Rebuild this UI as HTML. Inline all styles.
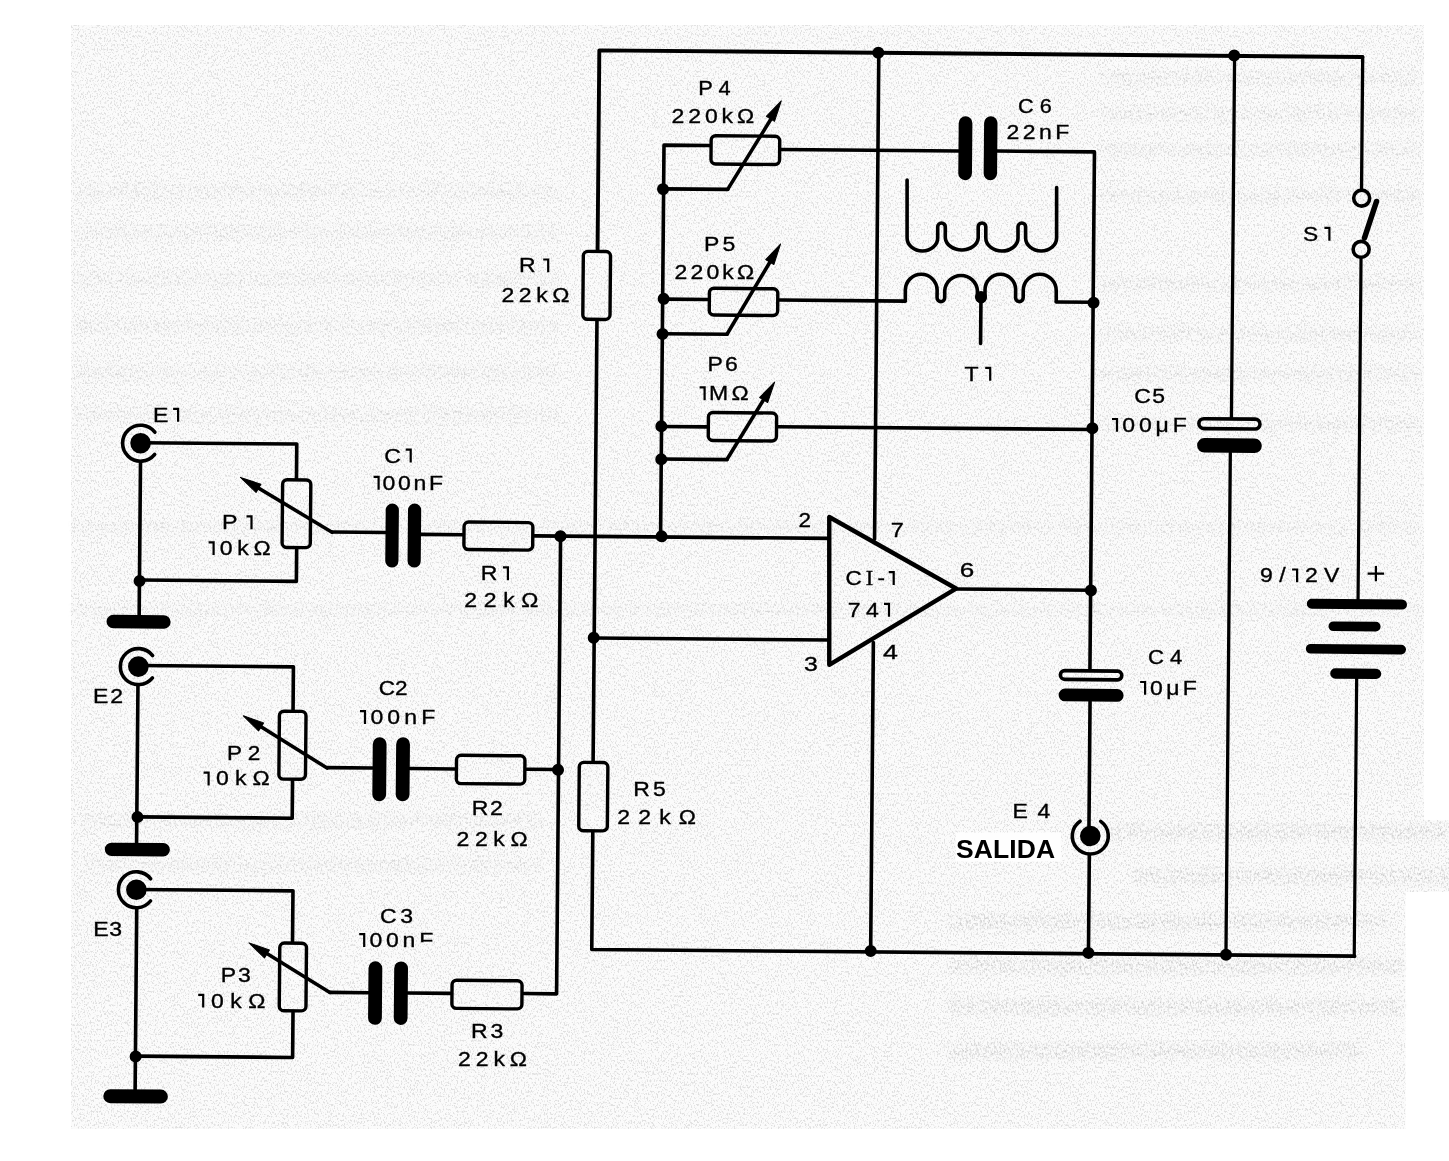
<!DOCTYPE html>
<html><head><meta charset="utf-8"><style>
html,body{margin:0;padding:0;background:#fff;}
svg{display:block;}
text{font-family:"Liberation Sans",sans-serif;fill:#000;}
</style></head><body>
<svg width="1449" height="1161" viewBox="0 0 1449 1161">
<defs>
<filter id="n" x="0" y="0" width="100%" height="100%">
<feTurbulence type="fractalNoise" baseFrequency="0.7 0.45" numOctaves="3" seed="7" result="t"/>
<feColorMatrix in="t" type="matrix" values="0 0 0 0 0  0 0 0 0 0  0 0 0 0 0  -6 0 0 0 2.9" result="a"/>
<feComposite in="a" in2="SourceGraphic" operator="in"/>
</filter>
<filter id="n2" x="-2%" y="-30%" width="104%" height="160%">
<feTurbulence type="fractalNoise" baseFrequency="0.5 0.3" numOctaves="2" seed="23" result="t"/>
<feColorMatrix in="t" type="matrix" values="0 0 0 0 0  0 0 0 0 0  0 0 0 0 0  -5 0 0 0 2.6" result="a"/>
<feGaussianBlur in="SourceGraphic" stdDeviation="3" result="b"/>
<feComposite in="a" in2="b" operator="in"/>
</filter>
</defs>
<path d="M71 25 H1424 V820 H1449 V892 H1405.5 V1129 H71 Z" fill="#fbfbfb"/>
<path d="M71 25 H1424 V820 H1449 V892 H1405.5 V1129 H71 Z" fill="#000" filter="url(#n)" opacity="0.10"/>
<g fill="#000" filter="url(#n2)" opacity="0.045">
<rect x="75" y="183" width="485" height="16"/>
<rect x="75" y="225" width="485" height="16"/><rect x="75" y="271" width="485" height="16"/>
<rect x="75" y="318" width="485" height="16"/><rect x="75" y="365" width="485" height="16"/>
<rect x="75" y="407" width="485" height="16"/>
<rect x="71" y="521" width="1352" height="12"/>

<rect x="71" y="604" width="1352" height="12"/>
<rect x="83" y="813" width="460" height="16"/><rect x="83" y="857" width="460" height="16"/>
</g>
<g fill="#000" filter="url(#n2)" opacity="0.06">
<rect x="1100" y="71" width="320" height="14"/><rect x="1100" y="107" width="320" height="14"/><rect x="1100" y="143" width="320" height="14"/><rect x="1100" y="189" width="320" height="14"/><rect x="1100" y="277" width="320" height="14"/><rect x="1100" y="327" width="320" height="14"/><rect x="1100" y="367" width="320" height="14"/><rect x="1100" y="417" width="320" height="14"/>
</g>
<g fill="#000" filter="url(#n2)" opacity="0.09">
<rect x="1110" y="824" width="339" height="16"/><rect x="1134" y="868" width="315" height="16"/>
<rect x="948" y="914" width="440" height="16"/><rect x="948" y="958" width="455" height="16"/>
<rect x="948" y="999" width="455" height="16"/><rect x="948" y="1043" width="413" height="16"/>
</g>
<g transform="rotate(0.5 725.0 500.0)">
<path d="M595.4 250.9 L595.4 51.5 L1358.6 51.5" fill="none" stroke="#000" stroke-width="3.9" stroke-linejoin="round" stroke-linecap="round"/>
<path d="M1358.8 51.4 L1358.8 182.9" fill="none" stroke="#000" stroke-width="3.3" stroke-linejoin="round" stroke-linecap="round"/>
<path d="M1358.9 253.5 L1358.9 598.7" fill="none" stroke="#000" stroke-width="3.2" stroke-linejoin="round" stroke-linecap="round"/>
<path d="M595.4 322.2 L595.4 761.9" fill="none" stroke="#000" stroke-width="3.6" stroke-linejoin="round" stroke-linecap="round"/>
<path d="M595.7 833.6 L595.7 950.6 L1358.6 950.6" fill="none" stroke="#000" stroke-width="3.6" stroke-linejoin="round" stroke-linecap="round"/>
<path d="M1358.2 951.1 L1358.2 668.1" fill="none" stroke="#000" stroke-width="3.2" stroke-linejoin="round" stroke-linecap="round"/>
<path d="M874.9 51.5 L874.9 538.0" fill="none" stroke="#000" stroke-width="3.6" stroke-linejoin="round" stroke-linecap="round"/>
<path d="M874.6 641.2 L874.6 949.7" fill="none" stroke="#000" stroke-width="3.6" stroke-linejoin="round" stroke-linecap="round"/>
<path d="M1230.7 51.1 L1230.7 412.7" fill="none" stroke="#000" stroke-width="3.3" stroke-linejoin="round" stroke-linecap="round"/>
<path d="M1229.9 448.4 L1229.9 950.3" fill="none" stroke="#000" stroke-width="3.3" stroke-linejoin="round" stroke-linecap="round"/>
<path d="M777.9 149.0 L955.4 149.0" fill="none" stroke="#000" stroke-width="3.6" stroke-linejoin="round" stroke-linecap="round"/>
<path d="M994.2 148.7 L1091.4 148.7 L1091.4 665.9" fill="none" stroke="#000" stroke-width="3.6" stroke-linejoin="round" stroke-linecap="round"/>
<path d="M1091.8 698.4 L1091.8 832.0" fill="none" stroke="#000" stroke-width="3.6" stroke-linejoin="round" stroke-linecap="round"/>
<path d="M1092.4 851.8 L1092.4 949.7" fill="none" stroke="#000" stroke-width="3.6" stroke-linejoin="round" stroke-linecap="round"/>
<path d="M777.7 299.6 L903.6 299.6" fill="none" stroke="#000" stroke-width="3.6" stroke-linejoin="round" stroke-linecap="round"/>
<path d="M1054.5 299.1 L1091.8 299.1" fill="none" stroke="#000" stroke-width="3.6" stroke-linejoin="round" stroke-linecap="round"/>
<path d="M979.2 294.8 L979.2 341.2" fill="none" stroke="#000" stroke-width="3.6" stroke-linejoin="round" stroke-linecap="round"/>
<path d="M777.6 426.3 L1091.7 426.3" fill="none" stroke="#000" stroke-width="3.6" stroke-linejoin="round" stroke-linecap="round"/>
<path d="M706.4 145.7 L660.9 145.7 L660.9 536.9" fill="none" stroke="#000" stroke-width="3.6" stroke-linejoin="round" stroke-linecap="round"/>
<path d="M662.0 299.7 L705.9 299.7" fill="none" stroke="#000" stroke-width="3.6" stroke-linejoin="round" stroke-linecap="round"/>
<path d="M660.7 427.0 L706.0 427.0" fill="none" stroke="#000" stroke-width="3.6" stroke-linejoin="round" stroke-linecap="round"/>
<path d="M660.3 189.4 L725.1 189.4" fill="none" stroke="#000" stroke-width="3.6" stroke-linejoin="round" stroke-linecap="round"/>
<path d="M725.1 189.1 L767.2 119.4" fill="none" stroke="#000" stroke-width="3.6" stroke-linejoin="round" stroke-linecap="round"/>
<path d="M661.1 334.3 L725.7 334.3" fill="none" stroke="#000" stroke-width="3.6" stroke-linejoin="round" stroke-linecap="round"/>
<path d="M725.7 334.0 L767.9 261.6" fill="none" stroke="#000" stroke-width="3.6" stroke-linejoin="round" stroke-linecap="round"/>
<path d="M660.9 459.6 L726.7 459.6" fill="none" stroke="#000" stroke-width="3.6" stroke-linejoin="round" stroke-linecap="round"/>
<path d="M726.7 459.3 L764.1 397.2" fill="none" stroke="#000" stroke-width="3.6" stroke-linejoin="round" stroke-linecap="round"/>
<path d="M777.8 100.4 L771.2 120.9 L763.0 116.0 Z" stroke="#000" stroke-width="1" stroke-linejoin="round"/>
<path d="M778.3 243.5 L771.8 264.1 L763.6 259.3 Z" stroke="#000" stroke-width="1" stroke-linejoin="round"/>
<path d="M773.6 381.7 L766.8 402.1 L758.7 397.2 Z" stroke="#000" stroke-width="1" stroke-linejoin="round"/>
<path d="M534.8 537.5 L829.6 537.5" fill="none" stroke="#000" stroke-width="3.6" stroke-linejoin="round" stroke-linecap="round"/>
<path d="M560.9 537.6 L560.9 995.3 L528.0 995.3" fill="none" stroke="#000" stroke-width="3.6" stroke-linejoin="round" stroke-linecap="round"/>
<path d="M528.9 771.0 L560.4 771.0" fill="none" stroke="#000" stroke-width="3.6" stroke-linejoin="round" stroke-linecap="round"/>
<path d="M594.9 639.1 L830.5 639.1" fill="none" stroke="#000" stroke-width="3.6" stroke-linejoin="round" stroke-linecap="round"/>
<path d="M956.8 587.0 L1091.7 587.0" fill="none" stroke="#000" stroke-width="3.6" stroke-linejoin="round" stroke-linecap="round"/>
<path d="M140.2 447.8 L296.3 447.8 L296.3 481.9" fill="none" stroke="#000" stroke-width="3.6" stroke-linejoin="round" stroke-linecap="round"/>
<path d="M297.1 553.0 L297.1 585.1 L140.3 585.1" fill="none" stroke="#000" stroke-width="3.6" stroke-linejoin="round" stroke-linecap="round"/>
<path d="M140.2 468.1 L140.2 621.1" fill="none" stroke="#000" stroke-width="3.6" stroke-linejoin="round" stroke-linecap="round"/>
<path d="M249.9 487.1 L332.3 535.7" fill="none" stroke="#000" stroke-width="3.6" stroke-linejoin="round" stroke-linecap="round"/>
<path d="M332.3 535.5 L385.8 535.5" fill="none" stroke="#000" stroke-width="3.6" stroke-linejoin="round" stroke-linecap="round"/>
<path d="M240.3 481.7 L260.8 488.3 L256.0 496.5 Z" stroke="#000" stroke-width="1" stroke-linejoin="round"/>
<path d="M421.3 537.0 L462.6 537.0" fill="none" stroke="#000" stroke-width="3.6" stroke-linejoin="round" stroke-linecap="round"/>
<path d="M139.8 670.6 L294.9 670.6 L294.9 713.4" fill="none" stroke="#000" stroke-width="3.6" stroke-linejoin="round" stroke-linecap="round"/>
<path d="M295.0 784.7 L295.0 822.0 L140.3 822.0" fill="none" stroke="#000" stroke-width="3.6" stroke-linejoin="round" stroke-linecap="round"/>
<path d="M139.6 691.1 L139.6 848.1" fill="none" stroke="#000" stroke-width="3.6" stroke-linejoin="round" stroke-linecap="round"/>
<path d="M253.9 725.1 L329.4 771.5" fill="none" stroke="#000" stroke-width="3.6" stroke-linejoin="round" stroke-linecap="round"/>
<path d="M329.4 771.1 L374.8 771.1" fill="none" stroke="#000" stroke-width="3.6" stroke-linejoin="round" stroke-linecap="round"/>
<path d="M245.2 720.0 L265.6 726.9 L260.6 735.0 Z" stroke="#000" stroke-width="1" stroke-linejoin="round"/>
<path d="M412.1 771.3 L457.1 771.3" fill="none" stroke="#000" stroke-width="3.6" stroke-linejoin="round" stroke-linecap="round"/>
<path d="M139.8 894.6 L296.4 894.6 L296.4 945.2" fill="none" stroke="#000" stroke-width="3.6" stroke-linejoin="round" stroke-linecap="round"/>
<path d="M297.5 1016.3 L297.5 1061.2 L140.5 1061.2" fill="none" stroke="#000" stroke-width="3.6" stroke-linejoin="round" stroke-linecap="round"/>
<path d="M140.3 913.6 L140.3 1095.1" fill="none" stroke="#000" stroke-width="3.6" stroke-linejoin="round" stroke-linecap="round"/>
<path d="M261.9 952.1 L334.2 995.9" fill="none" stroke="#000" stroke-width="3.6" stroke-linejoin="round" stroke-linecap="round"/>
<path d="M334.2 995.8 L372.6 995.8" fill="none" stroke="#000" stroke-width="3.6" stroke-linejoin="round" stroke-linecap="round"/>
<path d="M253.0 947.1 L273.4 953.9 L268.5 962.0 Z" stroke="#000" stroke-width="1" stroke-linejoin="round"/>
<path d="M412.1 995.8 L454.6 995.8" fill="none" stroke="#000" stroke-width="3.6" stroke-linejoin="round" stroke-linecap="round"/>
<rect x="581.2" y="252.6" width="27.2" height="67.9" rx="4.5" fill="none" stroke="#000" stroke-width="3.4"/>
<rect x="581.6" y="763.6" width="28.6" height="68.3" rx="4.5" fill="none" stroke="#000" stroke-width="3.4"/>
<rect x="282.5" y="483.6" width="28.2" height="67.7" rx="4.5" fill="none" stroke="#000" stroke-width="3.4"/>
<rect x="281.3" y="715.1" width="26.6" height="67.9" rx="4.5" fill="none" stroke="#000" stroke-width="3.4"/>
<rect x="283.7" y="946.9" width="26.7" height="67.7" rx="4.5" fill="none" stroke="#000" stroke-width="3.4"/>
<rect x="464.3" y="524.3" width="68.8" height="27.5" rx="4.5" fill="none" stroke="#000" stroke-width="3.4"/>
<rect x="458.8" y="757.6" width="68.4" height="28.3" rx="4.5" fill="none" stroke="#000" stroke-width="3.4"/>
<rect x="456.3" y="982.6" width="70.0" height="28.1" rx="4.5" fill="none" stroke="#000" stroke-width="3.4"/>
<rect x="708.0" y="135.8" width="68.6" height="28.3" rx="4.5" fill="none" stroke="#000" stroke-width="3.4"/>
<rect x="707.6" y="288.4" width="68.4" height="26.7" rx="4.5" fill="none" stroke="#000" stroke-width="3.4"/>
<rect x="707.7" y="412.6" width="68.2" height="28.0" rx="4.5" fill="none" stroke="#000" stroke-width="3.4"/>
<rect x="385.8" y="506.5" width="13.2" height="64.0" rx="6.6"/>
<rect x="408.1" y="506.3" width="13.2" height="64.0" rx="6.6"/>
<rect x="374.9" y="740.3" width="13.8" height="64.0" rx="6.9"/>
<rect x="398.3" y="740.1" width="13.8" height="64.0" rx="6.9"/>
<rect x="372.6" y="964.4" width="13.8" height="63.5" rx="6.9"/>
<rect x="398.3" y="964.2" width="13.8" height="63.5" rx="6.9"/>
<rect x="955.4" y="114.2" width="13.7" height="63.9" rx="6.9"/>
<rect x="980.8" y="114.0" width="13.4" height="63.9" rx="6.7"/>
<rect x="1198.2" y="414.5" width="61.1" height="9.9" rx="5.0" fill="none" stroke="#000" stroke-width="3.6"/>
<rect x="1196.6" y="433.9" width="64.7" height="14.5" rx="7.2"/>
<rect x="1061.9" y="667.7" width="61.4" height="8.7" rx="4.3" fill="none" stroke="#000" stroke-width="3.6"/>
<rect x="1060.3" y="685.6" width="65.0" height="12.8" rx="6.4"/>
<rect x="107.6" y="620.1" width="64.1" height="13.5" rx="6.8"/>
<rect x="107.9" y="848.0" width="65.1" height="13.4" rx="6.7"/>
<rect x="108.5" y="1094.5" width="64.6" height="14.0" rx="7.0"/>
<rect x="1307.7" y="593.7" width="100.2" height="10.0" rx="5.0"/>
<rect x="1329.6" y="616.1" width="52.1" height="9.7" rx="4.8"/>
<rect x="1307.1" y="638.8" width="100.2" height="9.7" rx="4.9"/>
<rect x="1331.7" y="663.0" width="51.0" height="10.3" rx="5.1"/>
<circle cx="1359.0" cy="192.6" r="8.0" fill="none" stroke="#000" stroke-width="3.6"/>
<circle cx="1358.9" cy="243.8" r="8.0" fill="none" stroke="#000" stroke-width="3.6"/>
<path d="M1362.2 232.4 L1373.9 195.8" fill="none" stroke="#000" stroke-width="5.5" stroke-linejoin="round" stroke-linecap="round"/>
<circle cx="140.1" cy="448.3" r="10.3"/>
<path d="M154.3 459.4 A18.0 18.0 0 1 1 154.3 437.2" fill="none" stroke="#000" stroke-width="3.6" stroke-linecap="round"/>
<circle cx="139.8" cy="671.7" r="10.3"/>
<path d="M154.0 682.8 A18.0 18.0 0 1 1 154.0 660.6" fill="none" stroke="#000" stroke-width="3.6" stroke-linecap="round"/>
<circle cx="139.8" cy="894.9" r="10.3"/>
<path d="M154.0 906.0 A18.0 18.0 0 1 1 154.0 883.8" fill="none" stroke="#000" stroke-width="3.6" stroke-linecap="round"/>
<circle cx="1093.2" cy="832.8" r="10.3"/>
<path d="M1103.5 818.1 A18.0 18.0 0 1 1 1082.9 818.1" fill="none" stroke="#000" stroke-width="3.6" stroke-linecap="round"/>
<path d="M829.4 516.1 L830.7 663.9 L956.8 586.5 Z" fill="none" stroke="#000" stroke-width="4.4" stroke-linejoin="round"/>
<path d="M904.3 178.4 L904.8 236.4 A15.3 13.0 0 0 0 935.4 236.2 L935.3 225.0 A3.8 3.8 0 0 1 942.9 224.9 L943.0 236.1 A16.5 13.0 0 0 0 975.9 235.8 L975.8 224.6 A3.8 3.8 0 0 1 983.4 224.5 L983.5 235.7 A16.1 13.0 0 0 0 1015.7 235.5 L1015.6 224.3 A3.8 3.8 0 0 1 1023.2 224.2 L1023.3 235.4 A15.5 13.0 0 0 0 1054.3 235.1 L1053.9 184.6" fill="none" stroke="#000" stroke-width="3.6" stroke-linejoin="round" stroke-linecap="round"/>
<path d="M903.6 299.0 L903.5 288.5 A15.9 15.9 0 0 1 935.3 288.3 L935.3 296.0 A3.8 3.8 0 0 0 942.9 295.9 L942.9 288.6 A16.4 16.4 0 0 1 975.6 288.4 L975.6 295.6 A3.8 3.8 0 0 0 983.2 295.5 L983.2 287.2 A15.3 15.3 0 0 1 1013.8 287.0 L1013.8 295.3 A3.8 3.8 0 0 0 1021.4 295.2 L1021.4 288.1 A16.5 16.5 0 0 1 1054.4 287.8 L1054.5 298.6" fill="none" stroke="#000" stroke-width="3.6" stroke-linejoin="round" stroke-linecap="round"/>
<circle cx="874.4" cy="51.5" r="6.0"/>
<circle cx="1230.3" cy="51.1" r="6.0"/>
<circle cx="660.3" cy="189.7" r="6.0"/>
<circle cx="661.9" cy="299.4" r="6.0"/>
<circle cx="661.1" cy="334.5" r="6.0"/>
<circle cx="660.7" cy="426.9" r="6.0"/>
<circle cx="660.9" cy="459.9" r="6.0"/>
<circle cx="661.9" cy="536.9" r="6.0"/>
<circle cx="560.8" cy="537.7" r="6.0"/>
<circle cx="594.9" cy="638.9" r="6.0"/>
<circle cx="560.4" cy="771.3" r="6.0"/>
<circle cx="979.2" cy="294.8" r="6.0"/>
<circle cx="1091.8" cy="299.6" r="6.0"/>
<circle cx="1091.7" cy="425.1" r="6.0"/>
<circle cx="1091.7" cy="587.2" r="6.0"/>
<circle cx="874.6" cy="949.7" r="6.0"/>
<circle cx="1092.3" cy="949.7" r="6.0"/>
<circle cx="1230.0" cy="950.3" r="6.0"/>
<circle cx="140.3" cy="586.1" r="6.0"/>
<circle cx="140.3" cy="822.2" r="6.0"/>
<circle cx="140.5" cy="1061.6" r="6.0"/>
</g>
<g opacity="0.995" stroke="#000" stroke-width="0.35">
<clipPath id="c3clip"><path d="M340 900 H419.5 V942.2 H440 V900 Z M340 900 V960 H419.5 V900 Z"/></clipPath>
<text x="698.2" y="94.5" font-size="20.0" textLength="32.4" lengthAdjust="spacingAndGlyphs">P 4</text>
<text x="671.6" y="123.4" font-size="20.0" letter-spacing="3.38" textLength="86.5" lengthAdjust="spacingAndGlyphs">220kΩ</text>
<text x="704.1" y="250.6" font-size="20.0" letter-spacing="2.75" textLength="34.5" lengthAdjust="spacingAndGlyphs">P5</text>
<text x="674.6" y="278.7" font-size="20.0" letter-spacing="2.72" textLength="82.7" lengthAdjust="spacingAndGlyphs">220kΩ</text>
<text x="707.6" y="370.5" font-size="20.0" letter-spacing="1.80" textLength="32.3" lengthAdjust="spacingAndGlyphs">P6</text>
<path d="M705.7 387.4 H699.6 M704.6 387.4 V400.2" fill="none" stroke-width="2.2" stroke-linecap="butt"/>
<text x="699.6" y="400.2" font-size="20.0" letter-spacing="2.72" textLength="52.1" lengthAdjust="spacingAndGlyphs"> MΩ</text>
<text x="1018.1" y="113.3" font-size="20.0" textLength="33.7" lengthAdjust="spacingAndGlyphs">C 6</text>
<text x="1006.4" y="139.0" font-size="20.0" letter-spacing="3.07" textLength="66.5" lengthAdjust="spacingAndGlyphs">22nF</text>
<path d="M991.3 367.9 H985.2 M990.2 367.9 V380.7" fill="none" stroke-width="2.2" stroke-linecap="butt"/>
<text x="964.6" y="380.7" font-size="20.0" letter-spacing="5.70" textLength="33.6" lengthAdjust="spacingAndGlyphs">T </text>
<text x="1134.3" y="402.5" font-size="20.0" letter-spacing="1.22" textLength="32.2" lengthAdjust="spacingAndGlyphs">C5</text>
<path d="M1118.1 419.0 H1112.0 M1117.0 419.0 V431.8" fill="none" stroke-width="2.2" stroke-linecap="butt"/>
<text x="1112.0" y="431.8" font-size="20.0" letter-spacing="3.35" textLength="78.6" lengthAdjust="spacingAndGlyphs"> 00μF</text>
<path d="M1330.5 227.9 H1324.4 M1329.4 227.9 V240.7" fill="none" stroke-width="2.2" stroke-linecap="butt"/>
<text x="1302.9" y="240.7" font-size="20.0" textLength="27.8" lengthAdjust="spacingAndGlyphs">S  </text>
<path d="M1298.2 569.5 H1292.1 M1297.1 569.5 V582.3" fill="none" stroke-width="2.2" stroke-linecap="butt"/>
<text x="1260.0" y="582.3" font-size="20.0" letter-spacing="5.61" textLength="85.9" lengthAdjust="spacingAndGlyphs">9/ 2V</text>
<path d="M549.3 259.5 H543.2 M548.2 259.5 V272.3" fill="none" stroke-width="2.2" stroke-linecap="butt"/>
<text x="518.9" y="272.3" font-size="20.0" letter-spacing="6.70" textLength="38.4" lengthAdjust="spacingAndGlyphs">R </text>
<text x="501.4" y="302.1" font-size="20.0" letter-spacing="3.98" textLength="72.6" lengthAdjust="spacingAndGlyphs">22kΩ</text>
<path d="M179.2 408.9 H173.1 M178.1 408.9 V421.7" fill="none" stroke-width="2.2" stroke-linecap="butt"/>
<text x="153.1" y="421.7" font-size="20.0" letter-spacing="4.06" textLength="31.1" lengthAdjust="spacingAndGlyphs">E </text>
<path d="M252.6 516.4 H246.5 M251.5 516.4 V529.2" fill="none" stroke-width="2.2" stroke-linecap="butt"/>
<text x="222.0" y="529.2" font-size="20.0" letter-spacing="1.21" textLength="32.3" lengthAdjust="spacingAndGlyphs">P  </text>
<path d="M214.7 542.3 H208.6 M213.6 542.3 V555.1" fill="none" stroke-width="2.2" stroke-linecap="butt"/>
<text x="208.6" y="555.1" font-size="20.0" letter-spacing="4.09" textLength="66.7" lengthAdjust="spacingAndGlyphs"> 0kΩ</text>
<path d="M411.8 449.7 H405.7 M410.7 449.7 V462.5" fill="none" stroke-width="2.2" stroke-linecap="butt"/>
<text x="384.3" y="462.5" font-size="20.0" letter-spacing="4.17" textLength="32.6" lengthAdjust="spacingAndGlyphs">C </text>
<path d="M379.7 476.9 H373.6 M378.6 476.9 V489.7" fill="none" stroke-width="2.2" stroke-linecap="butt"/>
<text x="373.6" y="489.7" font-size="20.0" letter-spacing="2.30" textLength="72.0" lengthAdjust="spacingAndGlyphs"> 00nF</text>
<path d="M509.0 567.4 H502.9 M507.9 567.4 V580.2" fill="none" stroke-width="2.2" stroke-linecap="butt"/>
<text x="480.8" y="580.2" font-size="20.0" letter-spacing="4.78" textLength="34.0" lengthAdjust="spacingAndGlyphs">R </text>
<text x="464.2" y="607.4" font-size="20.0" letter-spacing="5.83" textLength="81.1" lengthAdjust="spacingAndGlyphs">22kΩ</text>
<text x="798.6" y="527.1" font-size="20.0" textLength="12.5" lengthAdjust="spacingAndGlyphs">2</text>
<text x="890.8" y="536.5" font-size="20.0" textLength="13.0" lengthAdjust="spacingAndGlyphs">7</text>
<text x="959.7" y="577.3" font-size="20.0" textLength="14.5" lengthAdjust="spacingAndGlyphs">6</text>
<text x="803.9" y="670.7" font-size="20.0" textLength="13.8" lengthAdjust="spacingAndGlyphs">3</text>
<text x="883.0" y="658.5" font-size="20.0" textLength="14.9" lengthAdjust="spacingAndGlyphs">4</text>
<path d="M894.8 572.2 H888.7 M893.7 572.2 V585.0" fill="none" stroke-width="2.2" stroke-linecap="butt"/>
<text x="845.5" y="585.0" font-size="20.0" letter-spacing="3.64" textLength="53.8" lengthAdjust="spacingAndGlyphs">C<tspan font-family="Liberation Serif">I</tspan>- </text>
<path d="M890.1 603.9 H884.0 M889.0 603.9 V616.7" fill="none" stroke-width="2.2" stroke-linecap="butt"/>
<text x="847.8" y="616.7" font-size="20.0" letter-spacing="4.62" textLength="47.9" lengthAdjust="spacingAndGlyphs">74 </text>
<text x="1147.9" y="663.5" font-size="20.0" textLength="34.5" lengthAdjust="spacingAndGlyphs">C 4</text>
<path d="M1146.2 682.0 H1140.1 M1145.1 682.0 V694.8" fill="none" stroke-width="2.2" stroke-linecap="butt"/>
<text x="1140.1" y="694.8" font-size="20.0" letter-spacing="2.99" textLength="60.2" lengthAdjust="spacingAndGlyphs"> 0μF</text>
<text x="1012.5" y="818.0" font-size="20.0" letter-spacing="1.43" textLength="39.4" lengthAdjust="spacingAndGlyphs">E 4</text>
<text x="93.1" y="703.4" font-size="20.0" letter-spacing="1.54" textLength="31.7" lengthAdjust="spacingAndGlyphs">E2</text>
<text x="227.0" y="760.2" font-size="20.0" textLength="33.4" lengthAdjust="spacingAndGlyphs">P 2</text>
<path d="M209.7 772.6 H203.6 M208.6 772.6 V785.4" fill="none" stroke-width="2.2" stroke-linecap="butt"/>
<text x="203.6" y="785.4" font-size="20.0" letter-spacing="5.28" textLength="72.2" lengthAdjust="spacingAndGlyphs"> 0kΩ</text>
<text x="378.8" y="694.5" font-size="20.0" textLength="28.8" lengthAdjust="spacingAndGlyphs">C2</text>
<path d="M366.1 711.2 H360.0 M365.0 711.2 V724.0" fill="none" stroke-width="2.2" stroke-linecap="butt"/>
<text x="360.0" y="724.0" font-size="20.0" letter-spacing="3.56" textLength="79.3" lengthAdjust="spacingAndGlyphs"> 00nF</text>
<text x="471.8" y="815.1" font-size="20.0" letter-spacing="1.39" textLength="32.6" lengthAdjust="spacingAndGlyphs">R2</text>
<text x="456.6" y="846.3" font-size="20.0" letter-spacing="4.85" textLength="76.6" lengthAdjust="spacingAndGlyphs">22kΩ</text>
<text x="633.3" y="795.8" font-size="20.0" letter-spacing="2.61" textLength="35.4" lengthAdjust="spacingAndGlyphs">R5</text>
<text x="617.3" y="824.3" font-size="20.0" letter-spacing="7.08" textLength="86.8" lengthAdjust="spacingAndGlyphs">22kΩ</text>
<text x="93.2" y="935.8" font-size="20.0" letter-spacing="0.58" textLength="29.5" lengthAdjust="spacingAndGlyphs">E3</text>
<text x="220.8" y="981.7" font-size="20.0" letter-spacing="1.62" textLength="31.9" lengthAdjust="spacingAndGlyphs">P3</text>
<path d="M204.3 994.8 H198.2 M203.2 994.8 V1007.6" fill="none" stroke-width="2.2" stroke-linecap="butt"/>
<text x="198.2" y="1007.6" font-size="20.0" letter-spacing="5.60" textLength="73.6" lengthAdjust="spacingAndGlyphs"> 0kΩ</text>
<text x="379.9" y="922.8" font-size="20.0" letter-spacing="3.30" textLength="37.0" lengthAdjust="spacingAndGlyphs">C3</text>
<path d="M365.3 934.2 H359.2 M364.2 934.2 V947.0" fill="none" stroke-width="2.2" stroke-linecap="butt"/>
<text x="359.2" y="947.0" font-size="20.0" letter-spacing="3.32" textLength="77.9" lengthAdjust="spacingAndGlyphs" clip-path="url(#c3clip)"> 00nF</text>
<text x="471.0" y="1037.9" font-size="20.0" letter-spacing="2.52" textLength="35.2" lengthAdjust="spacingAndGlyphs">R3</text>
<text x="458.0" y="1065.5" font-size="20.0" letter-spacing="4.30" textLength="74.0" lengthAdjust="spacingAndGlyphs">22kΩ</text>
<path d="M1367.6 573.6 H1384.1 M1375.9 565.9 V581.2" fill="none" stroke-width="2.2"/>
<rect x="955.7" y="832.5" width="105.2" height="29.1" fill="#fff" stroke="none"/>
<text x="956.1" y="858.3" font-size="26.5" letter-spacing="0.09" textLength="99.2" lengthAdjust="spacingAndGlyphs" font-weight="bold" stroke="none">SALIDA</text>
</g>

</svg>
</body></html>
